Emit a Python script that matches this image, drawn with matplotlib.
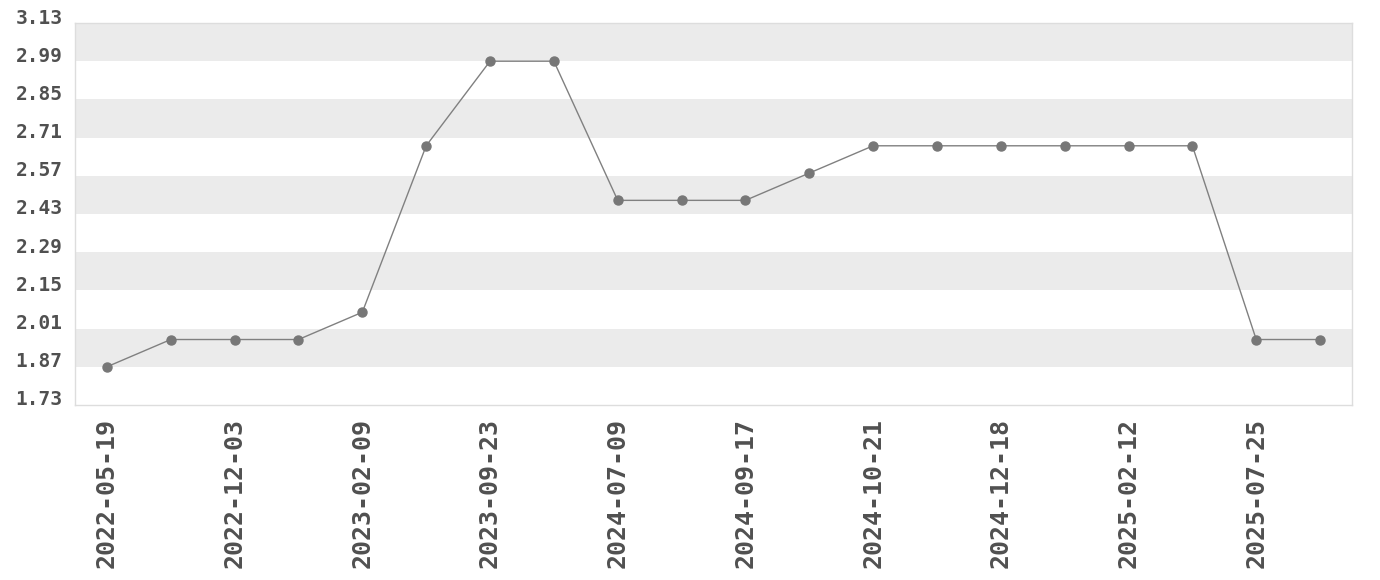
import matplotlib
matplotlib.use("Agg")
import matplotlib.pyplot as plt
import matplotlib.transforms as mtransforms
import numpy as np

# tick labels shown under every other point
date_labels = ["2022-05-19", "2022-12-03", "2023-02-09", "2023-09-23", "2024-07-09",
               "2024-09-17", "2024-10-21", "2024-12-18", "2025-02-12", "2025-07-25"]
values = [1.87, 1.97, 1.97, 1.97, 2.07, 2.68, 2.99, 2.99, 2.48, 2.48,
          2.48, 2.58, 2.68, 2.68, 2.68, 2.68, 2.68, 2.68, 1.97, 1.97]
y_ticks = [1.73, 1.87, 2.01, 2.15, 2.29, 2.43, 2.57, 2.71, 2.85, 2.99, 3.13]

fig = plt.figure(figsize=(13.8, 5.8), dpi=100)
ax = fig.add_axes([75 / 1380, 1 - 405 / 580, 1277 / 1380, 382 / 580])

x = np.arange(len(values))

# alternating bands
for i in range(len(y_ticks) - 1):
    if (len(y_ticks) - 2 - i) % 2 == 0:
        ax.axhspan(y_ticks[i], y_ticks[i + 1], color="#ebebeb", lw=0, zorder=0)

ax.plot(x, values, color="#808080", lw=1, marker="o", ms=6.5,
        markerfacecolor="#777777", markeredgecolor="#777777", zorder=3)

ax.set_xlim(-0.5, len(values) - 0.5)
ax.set_ylim(y_ticks[0], y_ticks[-1])

ax.set_yticks(y_ticks)
ax.set_yticklabels(["%.2f" % v for v in y_ticks])
ax.set_xticks(x[::2])
ax.set_xticklabels(date_labels, rotation=90)

ax.tick_params(axis="both", length=0)
ax.tick_params(axis="y", pad=9)
ax.tick_params(axis="x", pad=9)
for lab in ax.get_yticklabels():
    lab.set_fontfamily("DejaVu Sans Mono")
    lab.set_fontweight("bold")
    lab.set_fontsize(14)
    lab.set_color("#505050")
    lab.set_transform(lab.get_transform() +
                      mtransforms.ScaledTranslation(0, 7 / 100, fig.dpi_scale_trans))
for lab in ax.get_xticklabels():
    lab.set_fontfamily("DejaVu Sans Mono")
    lab.set_fontweight("bold")
    lab.set_fontsize(18)
    lab.set_color("#505050")

for s in ax.spines.values():
    s.set_color("#dddddd")
    s.set_linewidth(1)

fig.savefig("out.png", dpi=100, facecolor="white")
